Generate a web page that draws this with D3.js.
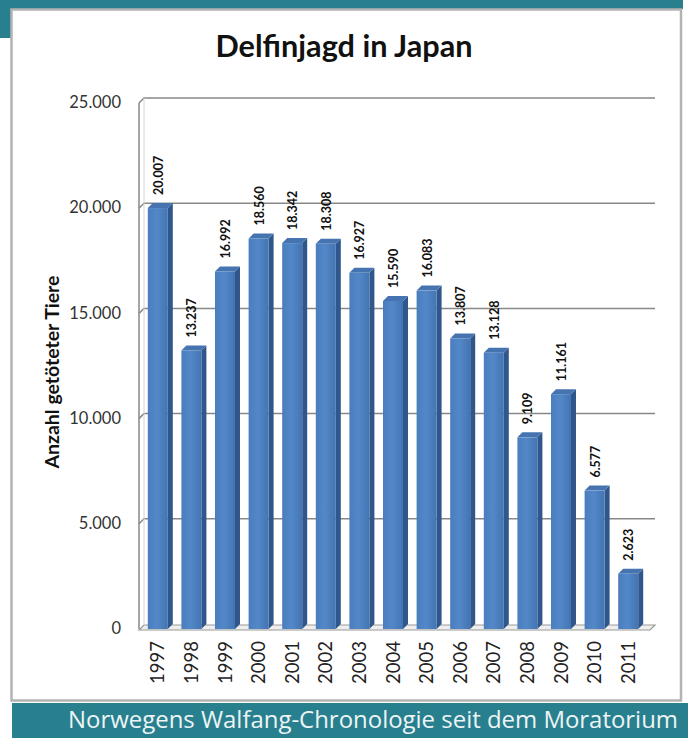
<!DOCTYPE html>
<html><head><meta charset="utf-8">
<script src="https://cdn.jsdelivr.net/npm/d3@7"></script>
<style>html,body{margin:0;padding:0;background:#fff;}svg{display:block;}</style>
</head><body>
<script>
const years = ["1997","1998","1999","2000","2001","2002","2003","2004","2005","2006","2007","2008","2009","2010","2011"];
const values = [20007,13237,16992,18560,18342,18308,16927,15590,16083,13807,13128,9109,11161,6577,2623];
const yTicks = [0,5000,10000,15000,20000,25000];
const title = "Delfinjagd in Japan";
const yTitle = "Anzahl getöteter Tiere";
const footer = "Norwegens Walfang-Chronologie seit dem Moratorium";

const W = 688, H = 738;
const teal = "#28808f";
const svg = d3.select("body").append("svg").attr("width", W).attr("height", H);

const de = d3.formatLocale({decimal: ",", thousands: ".", grouping: [3], currency: ["", "€"]});
const fmt = de.format(",d");

// frame
svg.append("rect").attr("x",0).attr("y",0).attr("width",683).attr("height",9).attr("fill",teal);
svg.append("rect").attr("x",0).attr("y",0).attr("width",11).attr("height",38).attr("fill",teal);
svg.append("rect").attr("x",11.5).attr("y",9.5).attr("width",669.5).attr("height",691)
  .attr("fill","#fff").attr("stroke","#b3b3b3").attr("stroke-width",2.5);

// scales
const y = d3.scaleLinear().domain([0,25000]).range([629, 103]);
const x = d3.scaleBand().domain(years).range([141,645]);
const D = 5; // depth offset
const xL = 139, xR = 650;

const g = svg.append("g");
yTicks.forEach(t => {
  if (t === 0) return;
  g.append("path")
    .attr("d", `M${xL},${y(t)} L${xL+D},${y(t)-D} L${xR+D},${y(t)-D}`)
    .attr("fill","none").attr("stroke","#888").attr("stroke-width",1.5);
});
g.append("line").attr("x1",xL).attr("x2",xL).attr("y1",y(25000)).attr("y2",y(0))
  .attr("stroke","#888").attr("stroke-width",1.5);
g.append("line").attr("x1",xL+D).attr("x2",xL+D).attr("y1",y(25000)-D).attr("y2",y(0)-D)
  .attr("stroke","#d6d6d6").attr("stroke-width",1);

// floor
g.append("path")
  .attr("d", `M${xL},${y(0)+1} L${xL+D},${y(0)-D+1} L${xR+D},${y(0)-D+1} L${xR},${y(0)+1} Z`)
  .attr("fill","#eeeeee").attr("stroke","#9a9a9a").attr("stroke-width",1.2);

// y tick labels
svg.append("g").selectAll("text").data(yTicks).join("text")
  .attr("x",121).attr("y",d=>y(d)+1)
  .attr("text-anchor","end").attr("dominant-baseline","middle")
  .attr("font-family","Lato, 'Liberation Sans', sans-serif").attr("font-size",16.5)
  .attr("fill","#333").text(d => d===0 ? "0" : fmt(d));

// bars
const bw = 20;
const defs = svg.append("defs");
const gr = defs.append("linearGradient").attr("id","front").attr("x1","0").attr("x2","1").attr("y1","0").attr("y2","0");
gr.append("stop").attr("offset","0").attr("stop-color","#4a7dbd");
gr.append("stop").attr("offset","0.45").attr("stop-color","#5388c8");
gr.append("stop").attr("offset","1").attr("stop-color","#4474b2");

const bars = svg.append("g").selectAll("g").data(years.map((yr,i)=>({yr, v: values[i]}))).join("g");
bars.each(function(d){
  const gg = d3.select(this);
  const x0 = x(d.yr) + x.bandwidth()/2 - bw/2;
  const yt = y(d.v), yb = y(0);
  gg.append("path")
    .attr("d", `M${x0+bw},${yt} L${x0+bw+D},${yt-D} L${x0+bw+D},${yb-D} L${x0+bw},${yb} Z`)
    .attr("fill","#2f578b");
  gg.append("path")
    .attr("d", `M${x0},${yt} L${x0+D},${yt-D} L${x0+bw+D},${yt-D} L${x0+bw},${yt} Z`)
    .attr("fill","#4574b0");
  gg.append("rect").attr("x",x0).attr("y",yt).attr("width",bw).attr("height",yb-yt)
    .attr("fill","url(#front)");
  gg.append("text")
    .attr("transform", `translate(${x0+bw/2+5},${yt-D-8}) rotate(-90)`)
    .attr("font-family","Lato, 'Liberation Sans', sans-serif").attr("font-weight","bold")
    .attr("font-size",12.5).attr("fill","#111").attr("text-anchor","start")
    .text(fmt(d.v));
});

// x labels
svg.append("g").selectAll("text").data(years).join("text")
  .attr("transform", d => `translate(${x(d)+x.bandwidth()/2+6.5},641) rotate(-90)`)
  .attr("text-anchor","end")
  .attr("font-family","Lato, 'Liberation Sans', sans-serif").attr("font-size",18.5)
  .attr("fill","#222").text(d=>d);

// title
svg.append("text").attr("x",344).attr("y",57).attr("text-anchor","middle")
  .attr("font-family","Lato, 'Liberation Sans', sans-serif").attr("font-weight","bold")
  .attr("font-size",30).attr("fill","#111")
  .attr("textLength",257).attr("lengthAdjust","spacingAndGlyphs").text(title);

// y title
svg.append("text").attr("transform","translate(59,372) rotate(-90)").attr("text-anchor","middle")
  .attr("font-family","Lato, 'Liberation Sans', sans-serif").attr("font-weight","bold")
  .attr("font-size",18).attr("fill","#111")
  .attr("textLength",193).attr("lengthAdjust","spacingAndGlyphs").text(yTitle);

// footer band
svg.append("rect").attr("x",12).attr("y",703).attr("width",676).attr("height",35).attr("fill",teal);
svg.append("text").attr("x",678).attr("y",728).attr("text-anchor","end")
  .attr("font-family","'Liberation Sans Narrow', 'Open Sans', sans-serif")
  .attr("font-size",23).attr("fill","#eef4f5")
  .attr("textLength",610).attr("lengthAdjust","spacingAndGlyphs")
  .text(footer);
</script>
</body></html>
